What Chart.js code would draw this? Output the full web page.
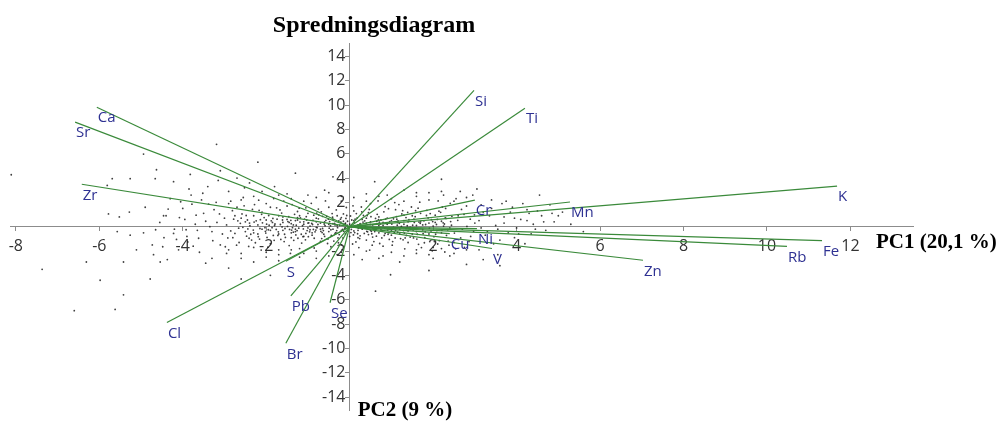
<!DOCTYPE html>
<html>
<head>
<meta charset="utf-8">
<script src="https://cdn.jsdelivr.net/npm/chart.js@4.4.1/dist/chart.umd.min.js"></script>
<style>
  html, body { margin: 0; padding: 0; background: #ffffff; }
  #wrap { position: relative; width: 1006px; height: 423px; }
</style>
</head>
<body>
<div id="wrap"><canvas id="c" width="1006" height="423"></canvas></div>
<script>
// ---- Data ----
const chartTitle = 'Spredningsdiagram';
const xAxisTitle = 'PC1 (20,1 %)';
const yAxisTitle = 'PC2 (9 %)';

const vectorNames = ['Ca','Sr','Zr','Si','Ti','K','Mn','Cr','Ni','Cu','V','Zn','Rb','Fe','S','Pb','Se','Br','Cl'];
const vectorPC1 = [-6.06,-6.58,-6.42,2.98,4.20,11.68,5.28,3.00,3.05,2.40,3.41,7.03,10.48,11.32,-1.53,-1.41,-0.47,-1.53,-4.38];
const vectorPC2 = [9.82,8.60,3.49,11.2,9.74,3.33,2.03,2.19,-0.16,-0.57,-1.79,-2.76,-1.62,-1.14,-2.84,-5.68,-6.25,-9.58,-7.87];

const xTickValues = [-8,-6,-4,-2,2,4,6,8,10,12];
const yTickValues = [-14,-12,-10,-8,-6,-4,-2,2,4,6,8,10,12,14];

// sample scores
const cloudPoints = [
[-2.4,0.3],[-2.2,-0.6],[-2.1,1.2],[-1.9,-1.4],[-1.8,0.1],[-1.7,0.9],[-1.6,-0.3],[-1.5,1.7],[-1.4,-0.9],[-1.3,0.5],[-1.2,-1.8],[-1.1,0.2],[-1.0,1.1],[-0.9,-0.5],[-0.8,0.7],[-0.7,-1.2],[-0.6,0.4],[-0.5,1.6],[-0.4,-0.2],[-0.3,0.9],[-0.2,-1.5],[-0.1,0.3],[0.0,-0.8],[0.1,1.3],[0.2,-0.3],[0.3,0.6],[0.4,-1.1],[0.5,1.9],[0.6,-0.1],[0.7,0.8],[0.8,-1.6],[0.9,0.2],[1.0,-0.7],[1.1,1.4],[1.2,-0.2],[1.3,0.5],[1.4,-1.3],[1.5,0.9],[1.6,-0.4],[1.7,1.1],[1.8,-0.9],[1.9,0.3],[2.0,-1.7],[2.1,0.6],[2.2,-0.5],[2.3,1.5],[2.4,-0.1],
[-2.35,-1.1],[-2.05,0.75],[-1.95,-0.25],[-1.75,1.55],[-1.65,-1.05],[-1.45,0.35],[-1.35,-0.45],[-1.25,1.25],[-1.15,-1.35],[-0.95,0.05],[-0.85,-0.95],[-0.75,1.45],[-0.65,-0.15],[-0.55,0.85],[-0.45,-1.65],[-0.35,0.15],[-0.25,-0.65],[-0.15,1.05],[-0.05,-0.35],[0.05,0.55],[0.15,-1.25],[0.25,0.25],[0.35,-0.55],[0.45,1.15],[0.55,-0.85],[0.65,0.45],[0.75,-0.25],[0.85,1.65],[0.95,-1.05],[1.05,0.65],[1.15,-0.45],[1.25,1.05],[1.35,-0.15],[1.45,-0.85],[1.55,0.35],[1.65,-1.45],[1.75,0.15],[1.85,1.35],[1.95,-0.35],[2.05,0.95],[2.15,-1.15],[2.25,0.05],[2.45,0.85],
[-2.28,1.82],[-2.12,-1.92],[-1.88,0.48],[-1.72,-0.72],[-1.58,2.1],[-1.42,-2.2],[-1.28,0.12],[-1.18,0.72],[-1.02,-0.32],[-0.92,1.92],[-0.78,-0.08],[-0.62,-0.62],[-0.48,0.42],[-0.38,-1.18],[-0.22,0.62],[-0.12,-0.12],[0.02,0.88],[0.12,-0.48],[0.28,1.62],[0.38,0.02],[0.52,-0.38],[0.62,0.68],[0.72,-1.38],[0.88,0.28],[0.98,-0.18],[1.12,0.82],[1.22,-0.98],[1.38,0.08],[1.48,1.62],[1.62,-0.62],[1.78,0.48],[1.92,-1.22],[2.08,0.18],[2.18,1.18],[2.32,-0.72],[2.42,0.42],
[-1.5,0.6],[-1.3,-0.2],[-1.1,0.4],[-0.9,-0.7],[-0.7,0.3],[-0.5,-0.4],[-0.3,0.1],[-0.1,-0.6],[0.1,0.5],[0.3,-0.2],[0.5,0.4],[0.7,-0.5],[0.9,0.7],[1.1,-0.3],[1.3,0.2],[1.5,-0.6],[-1.4,-0.5],[-1.2,0.9],[-1.0,-0.1],[-0.8,0.4],[-0.6,-0.8],[-0.4,0.6],[-0.2,-0.3],[0.0,0.2],[0.2,-0.9],[0.4,0.3],[0.6,-0.4],[0.8,0.1],[1.0,0.5],[1.2,-0.6],[1.4,0.4],[-1.35,0.15],[-1.05,-0.55],[-0.75,0.65],[-0.45,-0.25],[-0.15,0.45],[0.15,0.05],[0.45,-0.65],[0.75,0.55],[1.05,-0.05],[1.35,0.75],
[-2.5,-0.4],[-2.3,0.9],[-2.1,-0.2],[-1.9,1.6],[-1.7,-1.9],[-1.6,0.8],[-1.45,-1.55],[-1.25,0.55],[-1.05,1.55],[-0.85,-1.75],[-0.68,1.22],[-0.52,-1.02],[-0.32,1.38],[-0.18,-1.88],[0.08,1.72],[0.22,-1.72],[0.42,0.92],[0.58,-1.22],[0.82,1.22],[1.02,-1.52],[1.18,1.82],[1.32,-1.82],[1.58,1.32],[1.72,-1.72],[1.88,0.72],[2.02,-0.82],[2.22,1.62],[2.38,-1.52],[-2.42,-1.62],[-2.18,2.18],[-1.98,-0.88],[-1.82,2.32],[-1.62,-0.02],[-1.38,1.82],[-1.12,-0.82],[-0.88,0.52],[-0.58,2.12],[-0.28,-0.92],[-0.08,1.58],[0.18,0.72],[0.48,-1.92],[0.68,2.12],[0.92,-0.62],[1.08,1.98],[1.28,-1.08],[1.52,-0.28],[1.68,2.02],[1.98,-1.98],[2.12,2.12],[2.28,-2.08],
[-2.95,0.15],[-2.85,-0.35],[-2.78,0.62],[-2.66,-0.12],[-2.58,1.05],[-2.47,-0.78],[-2.39,0.08],[-2.31,-0.28],[-2.24,0.48],[-2.16,-1.02],[-2.09,0.32],[-2.01,-0.52],[-1.94,0.92],[-1.86,-0.08],[-1.79,0.22],[-1.71,-0.42],[-1.63,1.12],[-1.56,-0.62],[-1.49,0.02],[-1.41,0.52],[-1.34,-1.12],[-1.26,-0.32],[-1.19,0.38],[-1.11,-0.18],[-1.04,0.82],[-0.96,-0.42],[-0.89,0.18],[-0.81,-0.28],[-0.74,0.98],[-0.66,-0.48],[-0.59,0.08],[-0.51,0.62],[-0.44,-0.72],[-0.36,0.28],[-0.29,-0.08],[-0.21,0.38],[-0.14,-0.38],[-0.06,0.12],
[-2.92,-0.92],[-2.81,1.32],[-2.71,-1.52],[-2.62,0.28],[-2.53,1.72],[-2.44,-0.18],[-2.33,1.42],[-2.26,-1.32],[-2.14,0.58],[-2.03,-0.08],[-1.96,-1.68],[-1.84,0.68],[-1.76,-0.22],[-1.67,1.38],[-1.54,-0.88],[-1.46,0.82],[-1.37,-0.08],[-1.29,-0.68],[-1.21,1.52],[-1.13,0.08],[-1.06,-1.08],[-0.98,0.32],[-0.87,-0.22],[-0.79,1.12],[-0.69,-0.38],[-0.61,0.22],[-0.53,-1.38],[-0.41,0.78],[-0.33,-0.48],[-0.24,0.12],[-0.16,-0.92],[-0.09,0.68],
[0.04,-0.22],[0.11,0.32],[0.19,-0.58],[0.27,0.08],[0.33,0.92],[0.41,-0.38],[0.49,0.18],[0.56,-0.12],[0.64,-0.78],[0.71,0.38],[0.79,-0.32],[0.86,0.62],[0.94,-0.48],[1.01,0.22],[1.09,-0.92],[1.16,0.48],[1.24,0.02],[1.31,-0.52],[1.39,1.18],[1.46,-0.18],[1.54,0.62],[1.61,-1.02],[1.69,0.28],[1.76,-0.58],[1.84,0.92],[1.91,-0.12],[1.99,0.42],[2.06,-0.62],[2.14,1.28],[2.21,-0.28],[2.29,0.72],[2.36,-1.18],[2.44,0.12],[2.51,-0.52],[2.59,0.52],[2.66,-0.92],[2.74,1.02],[2.81,0.02],[2.89,0.62],[2.97,-0.38],
[0.07,-1.42],[0.16,1.08],[0.24,-0.98],[0.36,0.48],[0.47,1.42],[0.54,-1.52],[0.66,1.02],[0.77,-0.92],[0.84,-0.12],[0.93,1.48],[1.03,-1.22],[1.14,0.12],[1.27,1.32],[1.36,-0.72],[1.51,0.12],[1.64,1.52],[1.79,-1.32],[1.93,1.08],[2.11,-1.42],[2.24,0.32],[2.41,1.92],[2.54,-1.82],[2.68,1.42],[2.86,-1.22],[2.99,0.98],
[-2.2,0.15],[-1.9,-0.3],[-1.6,0.35],[-1.3,-0.4],[-1.0,0.3],[-0.7,-0.2],[-0.4,0.25],[-0.1,-0.1],[0.2,0.15],[0.5,-0.3],[0.8,0.35],[1.1,-0.1],[1.4,-0.35],[1.7,0.4],[2.0,0.05],[-2.6,0.7],[-2.3,-0.5],[-2.0,0.55],[-1.7,-0.6],[-1.4,0.25],[-1.1,-0.8],[-0.8,-0.05],[-0.5,0.2],[-0.2,0.75],[0.1,-0.35],[0.4,0.7],[0.7,0.1],[1.0,-0.35],[1.3,0.95],[1.6,0.1],[1.9,-0.6],[2.2,0.45],[-2.75,-0.55],[-2.45,0.55],[-2.15,-0.15],[-1.85,0.35],[-1.55,-0.15],[-1.25,0.75],[-0.95,-0.25],[-0.65,0.85],[-0.35,-0.55],[-0.05,0.45],[0.25,-0.75],[0.55,0.15],[0.85,-0.55],[1.15,0.35],[1.45,-0.05],[1.75,-0.25],[2.05,0.35],[2.35,-0.25],
[-2.56,-0.05],[-2.48,0.92],[-2.37,-0.62],[-2.29,0.38],[-2.19,-0.82],[-2.11,1.02],[-2.02,-0.38],[-1.93,0.12],[-1.83,-0.72],[-1.74,0.62],[-1.66,0.18],[-1.57,-1.22],[-1.48,0.42],[-1.39,-0.28],[-1.32,1.02],[-1.22,-0.12],[-1.16,-0.62],[-1.08,0.62],[-0.99,-0.82],[-0.91,0.28],[-0.83,-0.42],[-0.76,0.18],[-0.67,-0.98],[-0.57,0.52],[-0.49,-0.12],[-0.42,1.08],[-0.31,-0.32],[-0.26,0.48],[-0.17,-0.22],[-0.07,0.92],[0.03,-0.48],[0.13,0.62],[0.21,-0.12],[0.32,0.38],[0.43,-0.42],[0.51,0.82],[0.63,-0.22],[0.73,0.22],[0.83,-0.72],[0.96,0.42],[1.07,-0.48],[1.19,0.28],[1.29,-0.32],[1.42,0.58],[1.53,-0.92],[1.66,0.38],[1.81,-0.42],[1.96,0.58],[2.09,-0.32],[2.27,0.22],
[-2.68,0.48],[-2.41,-0.95],[-2.17,1.35],[-1.99,0.21],[-1.81,-1.12],[-1.61,0.55],[-1.44,-0.22],[-1.24,-0.95],[-1.03,0.55],[-0.86,0.95],[-0.63,-0.32],[-0.46,0.08],[-0.27,-1.32],[-0.11,0.22],[0.09,-0.68],[0.29,1.22],[0.53,-0.58],[0.69,0.58],[0.91,-0.28],[1.13,0.62],[1.33,-0.92],[1.57,0.82],[1.82,0.18],[2.03,-1.22],[2.31,0.68],
[-2.9,1.9],[-2.6,2.2],[-2.3,2.5],[-2.0,1.9],[-1.7,2.6],[-1.4,2.3],[-1.1,2.1],[-0.8,2.4],[-0.5,2.8],[-0.2,2.1],[0.1,2.4],[0.4,2.1],[0.7,2.5],[1.0,2.3],[1.3,2.1],[1.6,2.8],[1.9,2.2],[2.2,2.9],[2.5,2.1],[2.8,2.4],[-2.9,-1.9],[-2.6,-2.2],[-2.3,-1.7],[-2.0,-2.1],[-1.7,-2.3],[-1.4,-1.9],[-1.1,-2.2],[-0.8,-2.0],[-0.5,-2.4],[-0.2,-2.1],[0.1,-2.3],[0.4,-2.0],[0.7,-2.6],[1.0,-2.1],[1.3,-2.4],[1.6,-1.9],[1.9,-2.3],[2.2,-1.8],[2.5,-2.2],[2.8,-1.9],
[-4.0,1.5],[-3.9,-0.8],[-3.8,2.6],[-3.7,0.2],[-3.6,-2.1],[-3.5,1.1],[-3.4,3.3],[-3.3,-0.4],[-3.2,2.0],[-3.1,-1.5],[-3.0,0.7],[-2.9,2.9],[-2.8,-0.9],[-2.7,1.6],[-2.6,-2.6],[-2.5,0.4],[-3.95,0.6],[-3.75,-1.6],[-3.55,2.2],[-3.35,0.0],[-3.15,3.8],[-2.95,-2.2],[-2.75,0.9],[-2.55,2.4],[-3.85,3.1],[-3.65,-0.3],[-3.45,-3.0],[-3.25,1.4],[-3.05,-0.6],[-2.85,2.1],[-2.65,-1.3],[-2.52,3.2],[-4.2,-0.2],[-4.3,2.3],[-4.4,0.9],[-4.1,-1.9],[-4.45,-0.9],[-3.82,4.3],[-3.1,4.6],[-2.7,4.0],[-2.4,3.6],[-2.1,2.9],[-1.8,3.3],[-1.5,2.7],[-2.9,-3.4],[-2.3,-2.9],[-2.0,-2.5],[-1.7,-2.8],[-1.2,-2.5],[-3.3,-2.6],
[-3.45,0.45],[-3.62,-0.95],[-3.78,1.85],[-3.92,-0.25],[-4.08,0.75],[-4.22,-0.55],[-4.35,1.45],[-4.55,0.35],[-4.65,-0.25],[-3.28,-1.15],[-3.12,1.05],[-2.98,-1.65],[-3.52,2.75],[-3.68,0.95],[-3.88,-1.25],[-4.05,2.05],[-4.15,-1.05],[-4.48,-1.65],[-3.18,0.35],[-3.38,1.85],
[2.5,-1.3],[2.6,0.9],[2.7,-0.2],[2.8,1.7],[2.9,-0.8],[3.0,0.3],[3.1,-1.9],[3.2,1.2],[3.3,-0.4],[3.4,2.2],[3.5,0.1],[3.6,-1.1],[3.7,0.8],[3.8,-0.5],[3.9,1.6],[4.0,-0.1],[4.1,0.6],[4.2,-1.4],[4.3,1.1],[4.4,0.2],[2.55,2.3],[2.75,-1.7],[2.95,2.6],[3.15,-0.1],[3.35,0.9],[3.55,-2.3],[3.75,2.1],[3.95,-0.9],[4.15,1.9],[4.35,-0.6],[4.6,0.9],[4.7,-0.3],[4.8,1.8],[4.9,0.4],[5.1,1.2],[5.3,0.2],[4.55,2.6],[2.65,2.9],[3.05,3.1],[2.25,2.6],[1.9,2.8],[1.6,2.5],[1.3,3.0],[0.9,2.6],[0.4,2.7],[-0.2,2.5],[-0.6,3.0],[-1.0,2.6],[2.4,-2.4],[2.0,-2.6],[1.6,-2.2],[1.2,-2.9],[0.8,-2.4],[0.3,-2.7],[-0.3,-2.3],[-0.8,-2.6],[3.2,-2.7],[2.8,-3.1],
[3.1,0.5],[3.25,-0.7],[3.4,1.5],[3.55,-0.2],[3.7,0.3],[3.85,1.2],[4.05,-0.6],[4.25,0.5],[4.45,-0.2],[3.15,1.8],[3.45,-1.4],[3.65,1.9],[3.95,0.7],[4.25,1.4],[4.5,1.3],[4.65,0.4],[5.0,0.9],[4.85,1.1],
[-8.11,4.27],[-4.94,5.97],[-4.63,4.68],[-5.69,3.95],[-5.26,3.95],[-4.66,3.95],[-4.22,3.7],[-5.81,3.39],[-4.9,1.6],[-5.78,1.05],[-5.52,0.8],[-5.28,1.2],[-4.46,0.9],[-5.57,-0.4],[-5.26,-0.7],[-4.94,-0.5],[-4.73,-1.5],[-5.11,-1.9],[-4.7,-2.3],[-4.54,-2.9],[-4.37,-2.7],[-6.31,-2.9],[-5.42,-2.9],[-7.37,-3.5],[-5.98,-4.4],[-4.78,-4.3],[-5.42,-5.6],[-6.6,-6.9],[-5.62,-6.8],[-3.19,6.77],[0.62,-5.3],[0.98,-3.95],[-2.6,-4.3],[-1.9,-4.0],[1.9,-3.6],[3.6,-3.2],[-0.4,4.1],[0.6,3.7],[2.2,3.9],[-1.3,4.4],[5.6,-0.4],[-2.2,5.3]
];

// ---- Styles ----
const lineColor = '#3a8a3a';
const labelColor = '#2e3192';
const axisColor = '#8c8c8c';
const tickColor = '#333333';

const datasets = [];
datasets.push({
  type: 'scatter',
  data: cloudPoints.map(p => ({x: p[0], y: p[1]})),
  pointRadius: 0.9,
  pointBackgroundColor: 'rgba(30,30,30,0.85)',
  pointBorderWidth: 0,
  order: 2
});
vectorNames.forEach((n, i) => {
  datasets.push({
    type: 'scatter',
    label: n,
    data: [{x: 0, y: 0}, {x: vectorPC1[i], y: vectorPC2[i]}],
    showLine: true,
    borderColor: lineColor,
    borderWidth: 1.2,
    pointRadius: 0,
    fill: false,
    order: 1
  });
});

const textPlugin = {
  id: 'textPlugin',
  afterDatasetsDraw(chart) {
    const ctx = chart.ctx;
    const xs = chart.scales.x, ys = chart.scales.y;
    ctx.save();
    ctx.font = '15px "Open Sans", sans-serif';
    ctx.fillStyle = labelColor;
    ctx.textAlign = 'left';
    ctx.textBaseline = 'middle';
    vectorNames.forEach((n, i) => {
      const px = xs.getPixelForValue(vectorPC1[i]);
      const py = ys.getPixelForValue(vectorPC2[i]);
      ctx.fillText(n, px + 1, py + 11);
    });
    ctx.fillStyle = '#000';
    ctx.font = 'bold 24px "Liberation Serif", serif';
    ctx.textAlign = 'center';
    ctx.textBaseline = 'alphabetic';
    ctx.fillText(chartTitle, 374, 32);
    ctx.font = 'bold 21px "Liberation Serif", serif';
    ctx.textAlign = 'left';
    ctx.fillText(xAxisTitle, xs.right - 37, ys.getPixelForValue(0) + 21);
    ctx.fillText(yAxisTitle, xs.getPixelForValue(0) + 8, chart.chartArea.bottom + 6);
    ctx.restore();
  }
};

new Chart(document.getElementById('c'), {
  data: { datasets },
  options: {
    responsive: false,
    animation: false,
    events: [],
    layout: { padding: { top: 43, left: 10, right: 93, bottom: 8 } },
    plugins: { legend: { display: false }, tooltip: { enabled: false }, title: { display: false } },
    scales: {
      x: {
        type: 'linear',
        min: -8.14, max: 13.5,
        position: { y: 0 },
        afterFit: s => { s.height = 0; },
        afterBuildTicks: s => { s.ticks = xTickValues.map(v => ({value: v})); },
        ticks: { includeBounds: false, stepSize: 2, autoSkip: false, maxRotation: 0, color: tickColor, font: { family: '"Open Sans", sans-serif', size: 16 }, padding: 6 },
        grid: { drawOnChartArea: false, drawTicks: true, tickLength: 4, color: axisColor },
        border: { color: axisColor, width: 1 }
      },
      y: {
        type: 'linear',
        min: -15.1, max: 15.1,
        position: { x: 0 },
        afterFit: s => { s.width = 0; },
        afterBuildTicks: s => { s.ticks = yTickValues.map(v => ({value: v})); },
        ticks: { includeBounds: false, stepSize: 2, autoSkip: false, color: tickColor, font: { family: '"Open Sans", sans-serif', size: 16 }, callback: v => v + ' ' },
        grid: { drawOnChartArea: false, drawTicks: true, tickLength: 4, color: axisColor },
        border: { color: axisColor, width: 1 }
      }
    }
  },
  plugins: [textPlugin]
});
</script>
</body>
</html>
